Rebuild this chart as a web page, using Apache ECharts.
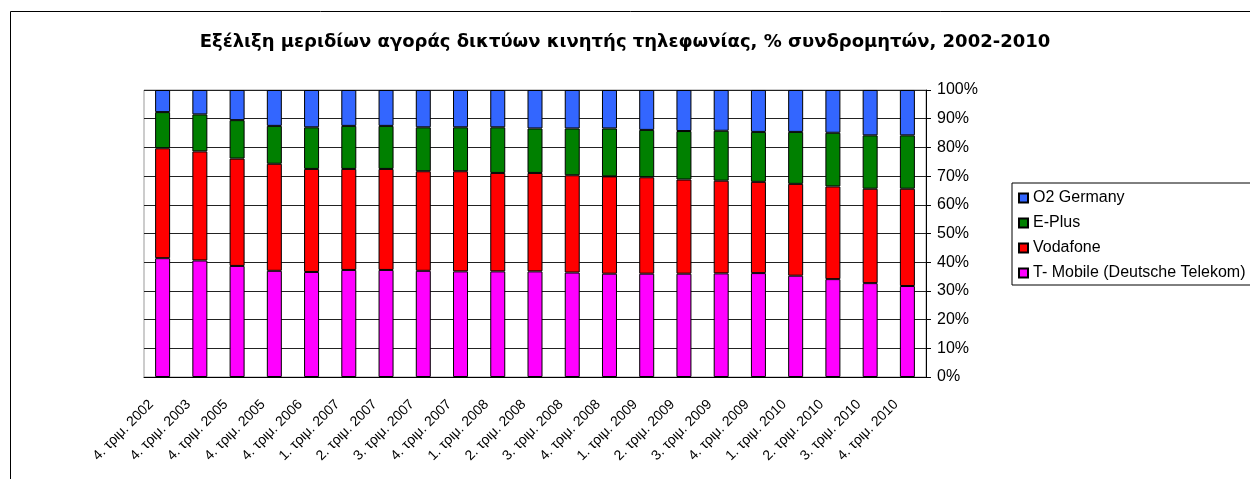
<!DOCTYPE html>
<html>
<head>
<meta charset="utf-8">
<script src="https://cdn.jsdelivr.net/npm/echarts@6.0.0/dist/echarts.min.js"></script>
<style>
  html, body { margin: 0; padding: 0; background: #fff; }
  #chart { width: 1250px; height: 479px; }
</style>
</head>
<body>
<div id="chart"></div>
<script>
// quarters on the x axis (the original repeats "4. τριμ. 2005")
const quarters = [
    '4. τριμ. 2002', '4. τριμ. 2003', '4. τριμ. 2005', '4. τριμ. 2005', '4. τριμ. 2006',
    '1. τριμ. 2007', '2. τριμ. 2007', '3. τριμ. 2007', '4. τριμ. 2007',
    '1. τριμ. 2008', '2. τριμ. 2008', '3. τριμ. 2008', '4. τριμ. 2008',
    '1. τριμ. 2009', '2. τριμ. 2009', '3. τριμ. 2009', '4. τριμ. 2009',
    '1. τριμ. 2010', '2. τριμ. 2010', '3. τριμ. 2010', '4. τριμ. 2010'
];

// market shares, % of subscribers
const tMobile = [41.4, 40.6, 38.7, 37.0, 36.6, 37.3, 37.3, 37.0, 36.8, 36.8, 36.8, 36.4, 36.0, 36.0, 36.0, 36.1, 36.2, 35.3, 34.1, 32.7, 31.7];
const vodafone = [38.3, 38.0, 37.4, 37.3, 35.9, 35.2, 35.2, 34.7, 34.9, 34.3, 34.3, 33.9, 33.9, 33.6, 32.8, 32.3, 31.8, 32.0, 32.3, 32.9, 33.9];
const ePlus = [12.6, 12.9, 13.4, 13.2, 14.5, 15.0, 15.0, 15.3, 15.3, 15.9, 15.5, 16.3, 16.7, 16.5, 16.9, 17.4, 17.4, 18.1, 18.7, 18.6, 18.6];
const o2 = [7.7, 8.5, 10.5, 12.5, 13.0, 12.5, 12.5, 13.0, 13.0, 13.0, 13.4, 13.4, 13.4, 13.9, 14.3, 14.2, 14.6, 14.6, 14.9, 15.8, 15.8];

const yTicks = [0, 10, 20, 30, 40, 50, 60, 70, 80, 90, 100];

const FONT = '"Liberation Sans", Arial, sans-serif';

const chart = echarts.init(document.getElementById('chart'));

const makeSeries = (name, data, color) => ({
    name: name,
    type: 'bar',
    stack: 'share',
    data: data,
    barWidth: 15,
    itemStyle: { color: color, borderColor: '#000', borderWidth: 1 },
    emphasis: { disabled: true }
});

chart.setOption({
    animation: false,
    backgroundColor: '#fff',
    textStyle: { fontFamily: FONT },
    graphic: [{
        type: 'rect',
        shape: { x: 10.5, y: 11.5, width: 1300, height: 520 },
        style: { fill: 'none', stroke: '#000', lineWidth: 1 },
        z: -1
    }],
    title: {
        text: 'Εξέλιξη μεριδίων αγοράς δικτύων κινητής τηλεφωνίας, % συνδρομητών, 2002-2010',
        left: 'center',
        top: 28,
        textStyle: { fontFamily: '"DejaVu Sans", sans-serif', fontSize: 18, fontWeight: 'bold', color: '#000' }
    },
    legend: {
        orient: 'vertical',
        left: 1012,
        top: 183,
        data: ['O2 Germany', 'E-Plus', 'Vodafone', 'T- Mobile (Deutsche Telekom)'],
        icon: 'rect',
        itemWidth: 9,
        itemHeight: 9,
        itemGap: 9,
        padding: [7, 60, 4, 6],
        borderColor: '#000',
        borderWidth: 1,
        selectedMode: false,
        textStyle: { fontFamily: FONT, fontSize: 16, color: '#000' }
    },
    grid: {
        left: 144,
        right: 324,
        top: 90,
        bottom: 102,
        show: true,
        borderColor: '#999',
        borderWidth: 1
    },
    xAxis: {
        type: 'category',
        data: quarters,
        axisLine: { lineStyle: { color: '#000' } },
        axisTick: { length: 5, lineStyle: { color: '#000' } },
        axisLabel: {
            rotate: 45, fontFamily: FONT, fontSize: 14, color: '#000',
            margin: 14, interval: 0, padding: [0, 16, 0, 0]
        }
    },
    yAxis: {
        type: 'value',
        position: 'right',
        min: yTicks[0],
        max: yTicks[yTicks.length - 1],
        interval: 10,
        axisLine: { show: true, lineStyle: { color: '#000' } },
        axisTick: { show: true, inside: false, length: 5, lineStyle: { color: '#000' } },
        axisLabel: { fontFamily: FONT, fontSize: 16, color: '#000', margin: 11, formatter: '{value}%' },
        splitLine: { show: true, lineStyle: { color: '#222', width: 1 } }
    },
    series: [
        makeSeries('T- Mobile (Deutsche Telekom)', tMobile, '#FF00FF'),
        makeSeries('Vodafone', vodafone, '#FF0000'),
        makeSeries('E-Plus', ePlus, '#008000'),
        makeSeries('O2 Germany', o2, '#3366FF')
    ]
});
</script>
</body>
</html>
